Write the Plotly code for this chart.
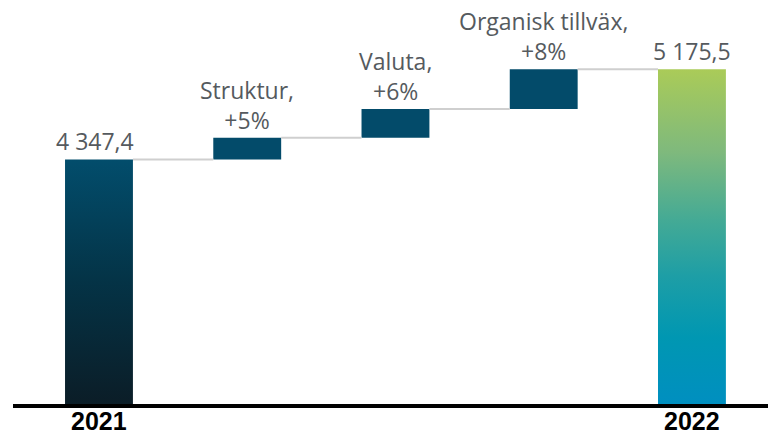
import plotly.graph_objects as go

# ---- data ----
categories = ["2021", "Struktur", "Valuta", "Organisk tillväx", "2022"]
start_value = 4347.4
end_value = 5175.5
delta_values = [200.0, 264.0, 364.1]
delta_labels = ["Struktur,<br>+5%", "Valuta,<br>+6%", "Organisk tillväx,<br>+8%"]
tick_labels = ["2021", "2022"]

# ---- style ----
AXIS_MIN = 2102
AXIS_MAX = 5812
HALF_W = 0.229
DELTA_COLOR = "#034b6a"
GRAD_2021 = [[0, "#0b1d27"], [0.5, "#043346"], [1, "#024d6c"]]
GRAD_2022 = [[0, "#008fc0"], [0.2, "#0097b2"], [0.38, "#1d9ea6"], [0.55, "#44aa95"],
             [0.75, "#7eb97d"], [1, "#aacb58"]]
LABEL_FONT = dict(family="Open Sans, Arial, sans-serif", size=23, color="#555a5e")
TICK_FONT = dict(family="Liberation Sans, Arial, sans-serif", size=25, color="black", weight="bold")

def fmt(v):
    s = f"{v:,.1f}"
    return s.replace(",", "X").replace(".", ",").replace("X", " ")

fig = go.Figure()

xs = list(range(len(categories)))

levels = [start_value]
for d in delta_values:
    levels.append(levels[-1] + d)

# connectors
for i in range(len(xs) - 1):
    lvl = levels[i] if i < len(levels) else levels[-1]
    fig.add_trace(go.Scatter(
        x=[xs[i] + HALF_W, xs[i + 1] - HALF_W], y=[lvl, lvl],
        mode="lines", line=dict(color="#cfcfcf", width=2),
        hoverinfo="skip", showlegend=False, cliponaxis=False))

def grad_bar(xc, top, scale):
    fig.add_trace(go.Scatter(
        x=[xc - HALF_W, xc + HALF_W, xc + HALF_W, xc - HALF_W, xc - HALF_W],
        y=[AXIS_MIN, AXIS_MIN, top, top, AXIS_MIN],
        mode="lines", line=dict(width=0), fill="toself",
        fillgradient=dict(type="vertical", colorscale=scale, start=AXIS_MIN, stop=top),
        hoverinfo="skip", showlegend=False))

grad_bar(xs[0], start_value, GRAD_2021)
grad_bar(xs[-1], end_value, GRAD_2022)

fig.add_trace(go.Bar(
    x=xs[1:4], y=delta_values, base=levels[:3], width=2 * HALF_W,
    marker=dict(color=DELTA_COLOR, line=dict(width=0)),
    hoverinfo="skip", showlegend=False))

fig.add_annotation(x=xs[0], y=start_value, text=fmt(start_value), showarrow=False,
                   yanchor="bottom", yshift=0, font=LABEL_FONT, xshift=-4)
fig.add_annotation(x=xs[-1], y=end_value, text=fmt(end_value), showarrow=False,
                   yanchor="bottom", yshift=0, font=LABEL_FONT)
for i, txt in enumerate(delta_labels):
    fig.add_annotation(x=xs[i + 1], y=levels[i + 1], text=txt, showarrow=False,
                       yanchor="bottom", yshift=0, font=LABEL_FONT)

# category labels under the axis
for xv, lab in zip([xs[0], xs[-1]], tick_labels):
    fig.add_annotation(x=xv, y=0, yref="paper", text=lab, showarrow=False,
                       yanchor="top", yshift=-2, borderpad=0, font=TICK_FONT)

fig.update_layout(
    width=768, height=436,
    margin=dict(l=13, r=0, t=0, b=32, autoexpand=False),
    paper_bgcolor="white", plot_bgcolor="white",
    xaxis=dict(range=[-0.58, 4.513], showgrid=False, zeroline=False, automargin=False,
               showline=True, linecolor="black", linewidth=4,
               showticklabels=False, ticks=""),
    yaxis=dict(range=[AXIS_MIN, AXIS_MAX], visible=False, automargin=False),
)

fig.write_html("out.html")
